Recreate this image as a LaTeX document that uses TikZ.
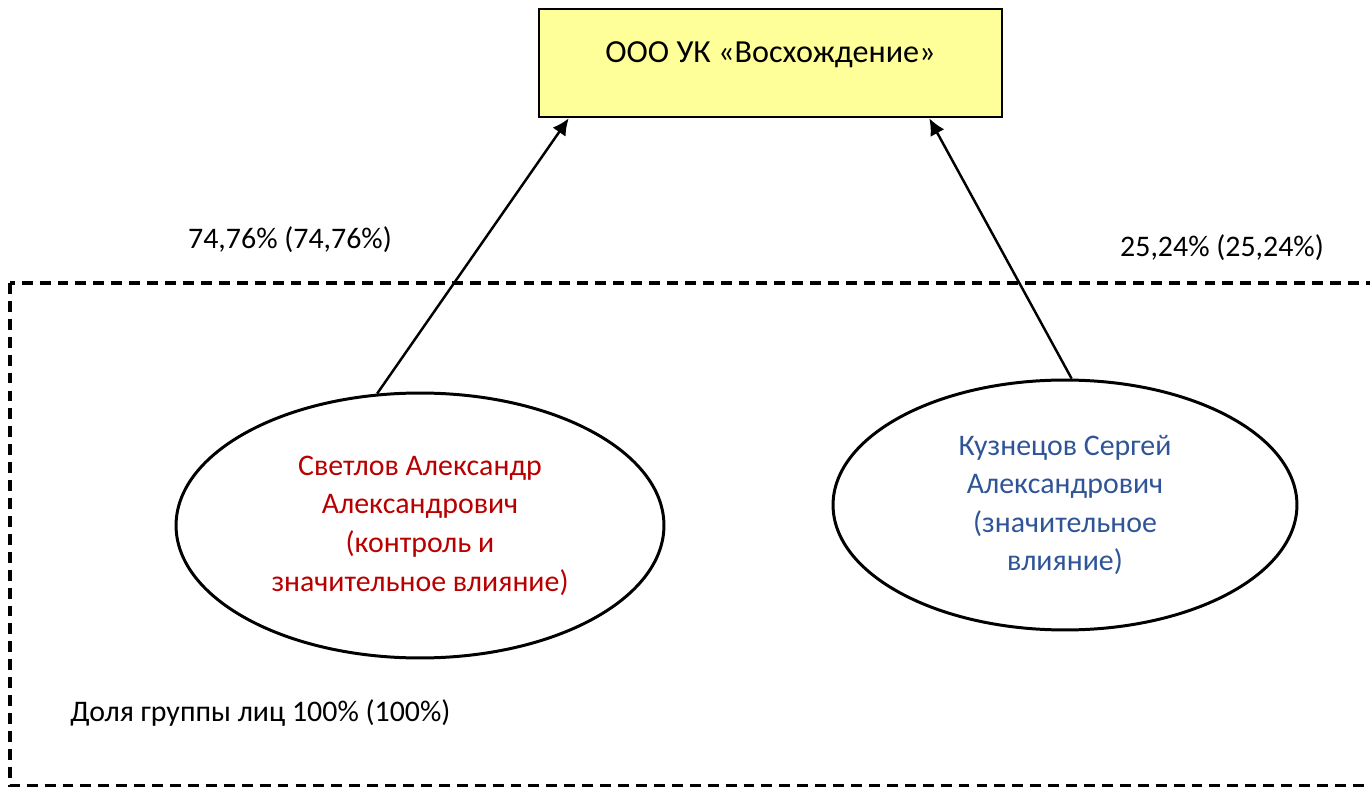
\documentclass[tikz,border=0pt]{standalone}
\usepackage{fontspec}
\setmainfont{Carlito}
\usetikzlibrary{shapes.geometric,arrows.meta}

\definecolor{boxyellow}{HTML}{FFFF99}
\definecolor{ownerred}{HTML}{B80000}
\definecolor{ownerblue}{HTML}{2F5597}

\tikzset{
    company/.style={draw, line width=1.5pt, fill=boxyellow, minimum width=9.26cm, minimum height=2.16cm, inner sep=0pt, text depth=12pt, font=\fontsize{18.3}{22}\selectfont},
    person/.style={draw, line width=1.7pt, ellipse, inner sep=0pt, align=center},
    share/.style={->, line width=1.4pt},
    txt/.style={font=\fontsize{17}{22}\selectfont}
}

\begin{document}
\begin{tikzpicture}[x=0.02cm,y=-0.02cm,>={Latex[length=9.5pt,width=9pt]},txt]
    % fix the page size
    \useasboundingbox (0,0) rectangle (1370,787);
    \clip (0,0) rectangle (1370,787);

    % the group of persons
    \draw[line width=1.8pt, dash pattern=on 6.2pt off 4pt] (10,283) rectangle (1400,786);
    \node[anchor=west, inner sep=0pt] (group) at (70,713) {Доля группы лиц 100\% (100\%)};

    % the company
    \node[company] (uk) at (770.5,63) {ООО УК «Восхождение»};

    % the owners
    \node[person, minimum width=9.76cm, minimum height=5.3cm, text=ownerred] (svetlov) at (420,525.5)
        {Светлов Александр\\Александрович\\(контроль и\\значительное влияние)};
    \node[person, minimum width=9.28cm, minimum height=5.0cm, text=ownerblue] (kuznetsov) at (1065,505)
        {Кузнецов Сергей\\Александрович\\(значительное\\влияние)};

    % the shares
    \draw[share] (svetlov.108) -- ([xshift=0.62cm]uk.south west);
    \draw[share] (kuznetsov.87) -- ([xshift=-1.48cm]uk.south east);
    \node (sharesv) at (290,240) {74,76\% (74,76\%)};
    \node (sharekz) at (1222,248) {25,24\% (25,24\%)};
\end{tikzpicture}
\end{document}
